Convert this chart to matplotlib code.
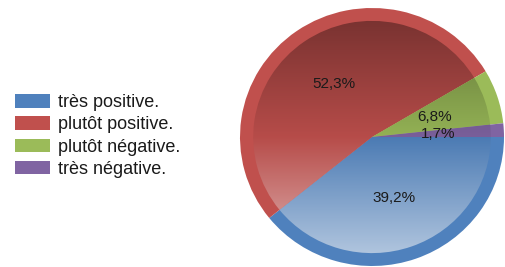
import numpy as np
import matplotlib
matplotlib.use("Agg")
import matplotlib.pyplot as plt
from matplotlib.patches import Wedge, Patch

categories = ["très positive.", "plutôt positive.", "plutôt négative.", "très négative."]
values = [39.2, 52.3, 6.8, 1.7]
colors = ["#4F81BD", "#C0504D", "#9BBB59", "#8064A2"]

W, H = 506, 267
fig = plt.figure(figsize=(W / 100, H / 100), dpi=100)
fig.patch.set_facecolor("white")

# pie axes box in pixels
x0, x1, y0, y1 = 240, 504, 8, 266
ax = fig.add_axes([x0 / W, 1 - y1 / H, (x1 - x0) / W, (y1 - y0) / H])

def fmt(p):
    return ("%.1f%%" % p).replace(".", ",")

wedges, texts, autotexts = ax.pie(
    values, colors=colors, startangle=0, counterclock=False,
    autopct=fmt, pctdistance=0.5, radius=1.0,
    wedgeprops=dict(linewidth=0),
    textprops=dict(fontsize=11, family="Liberation Sans", color="#1a1a1a"),
)
ax.set_aspect("auto")
ax.set_xlim(-1, 1)
ax.set_ylim(-1, 1)
ax.axis("off")

# vertical gradient shading for the inner disc
n = 300
yy = np.linspace(1, -1, n)
def shade(base):
    b = np.array(matplotlib.colors.to_rgb(base))
    img = np.zeros((n, 2, 3))
    for i, y in enumerate(yy):
        if y >= 0:
            c = b * (0.95 - 0.35 * y)
        else:
            t = min(1.0, -y) * 0.62
            c = b * 0.95 + (1 - b * 0.95) * t
        img[i, :, :] = np.clip(c, 0, 1)
    return img

for w, col in zip(wedges, colors):
    inner = Wedge((0, 0), 0.9, w.theta1, w.theta2, facecolor="none", edgecolor="none")
    ax.add_patch(inner)
    im = ax.imshow(shade(col), extent=(-1, 1, -1, 1), aspect="auto",
                   interpolation="bilinear", zorder=1.5)
    im.set_clip_path(inner)
for t in autotexts:
    t.set_zorder(5)

fs = 13
handles = [Patch(facecolor=c, edgecolor="none") for c in colors]
leg = fig.legend(handles, categories, loc="center left",
                 bbox_to_anchor=(15 / W, 1 - 136 / H), frameon=False,
                 prop=dict(family="Liberation Sans", size=fs),
                 handlelength=1.95, handleheight=0.78, handletextpad=0.42,
                 labelspacing=0.28, borderpad=0, borderaxespad=0)
for t in leg.get_texts():
    t.set_color("#1a1a1a")

fig.savefig("out.png", dpi=100, facecolor="white")
